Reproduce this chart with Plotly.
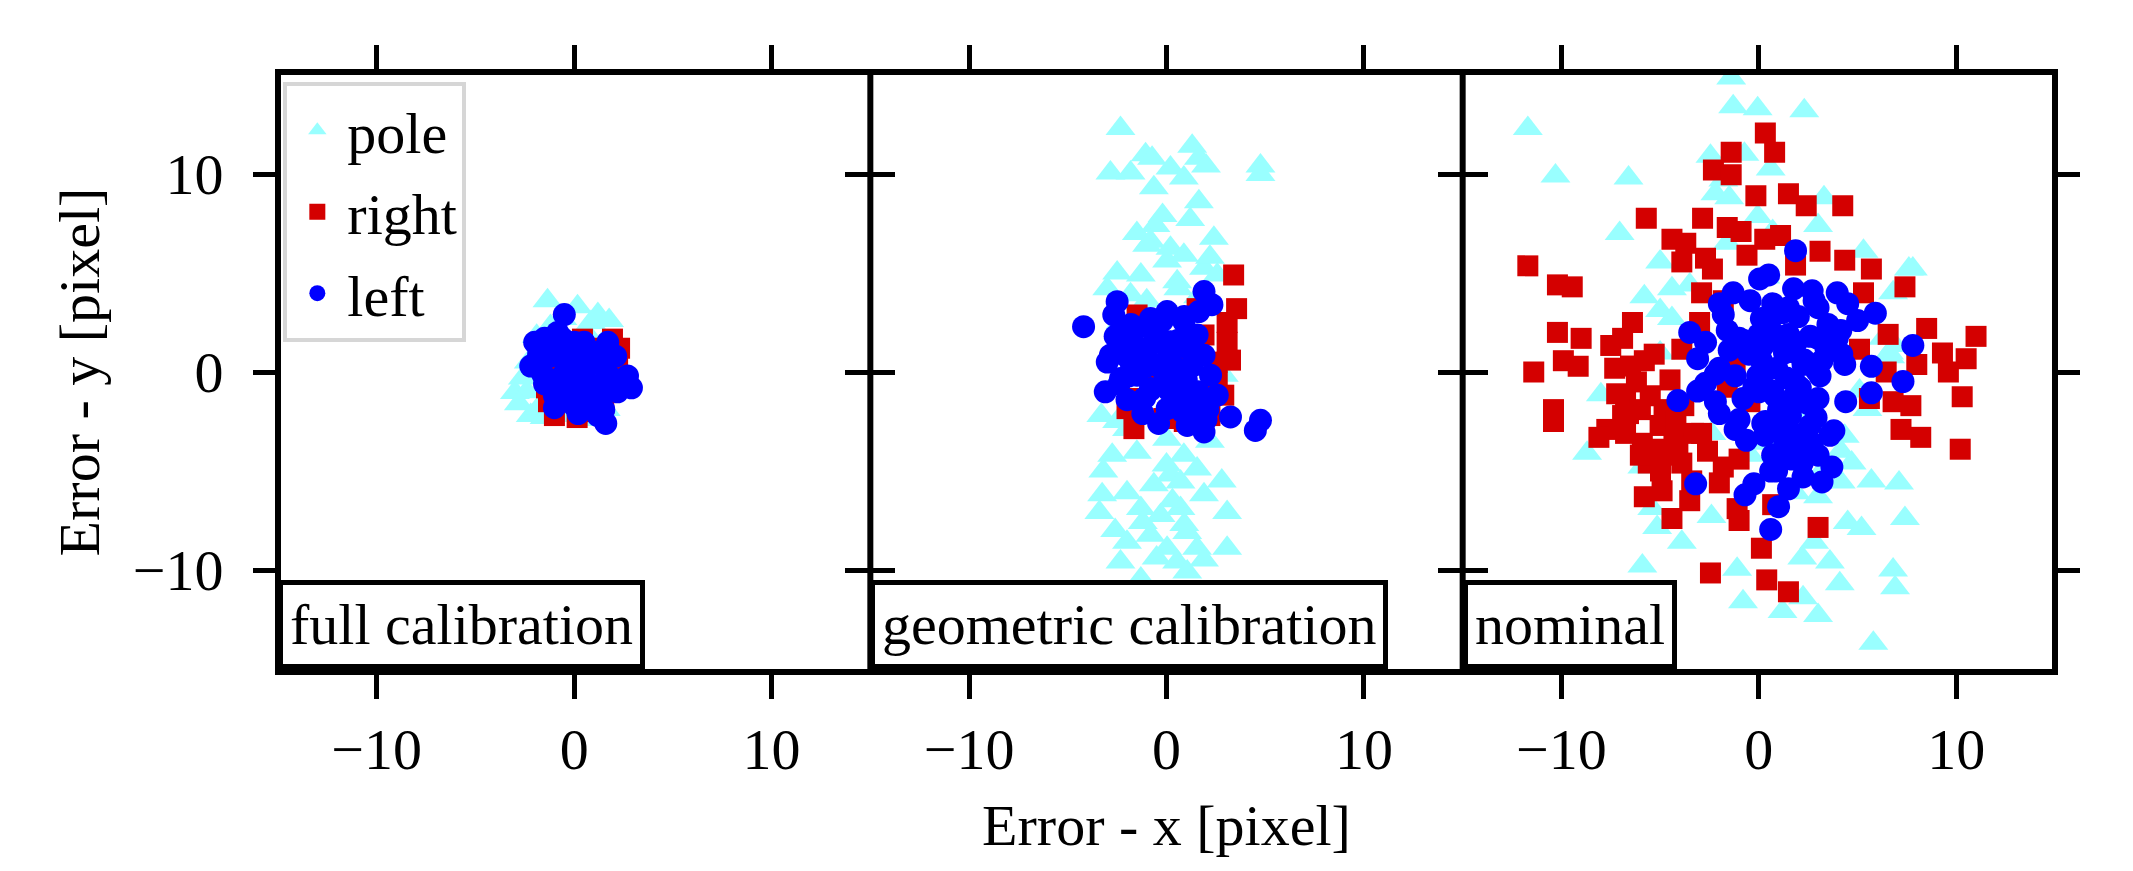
import plotly.graph_objects as go
from plotly.subplots import make_subplots

# ---- data (pixel errors) ----
panels = ["full calibration", "geometric calibration", "nominal"]

# full calibration
full_pole_x = [-1.35, 0.17, 0.85, 1.77, -0.6, 1.2, -3.0, -2.4, -2.8, -2.2, -1.8, -1.5, -0.3, 0.4, 1.0, 1.6,
               -2.3, -1.9, -1.0, 0.0, 0.9, 1.9, -2.6, -0.8, 0.5, 1.4, -1.2, 0.6]
full_pole_y = [3.6, 3.3, 2.5, 2.6, 2.7, 2.9, -1.04, -1.0, -1.6, -2.2, -1.8, -2.3, -2.2, -2.0, -2.4, -1.9,
               0.5, 1.8, 1.2, 0.4, 0.9, -0.8, -0.3, -1.4, -1.2, 1.4, 2.3, 2.0]
full_right_x = [0.42, 1.94, 2.2, -1.0, 0.15, -1.3, -0.5, 1.2, 2.0, 1.5, -1.2, 0.8, -0.3, 0.3, 1.7, -0.8,
                -1.4, 0.9, 2.3, 0.0]
full_right_y = [1.66, 1.66, 0.65, -2.2, -2.3, -1.5, 1.4, 1.2, -0.5, -1.6, 0.2, -1.0, -0.8, 0.6, 0.3, 1.6,
                -0.8, -2.0, 1.2, 1.0]
full_left_x = [-0.5, -2.0, -2.2, 2.7, 2.9, 1.7, 0.5, -0.84, -1.5, -1.2, -0.4, 0.3, 1.0, 1.6, 2.2, 1.5,
               1.6, 1.2, 0.6, -0.2, -0.9, -1.6, -1.0, 0.0, 0.8, 1.9, 2.1, -0.3, 0.7, -1.8, -1.3, 0.2,
               1.1, -0.6, -1.2, -0.6, 0.0, 0.6, 1.2, -1.5, -0.9, -0.3, 0.3, 0.9, 1.5, -1.0, 0.2, 1.3,
               -0.4]
full_left_y = [2.9, 1.5, 0.3, -0.2, -0.8, 1.5, 1.5, 2.0, 1.7, 0.8, 0.3, -0.2, 0.6, 0.1, -1.0, -1.9,
               -2.6, -2.2, -1.5, -1.2, -0.5, -0.1, -1.2, -1.7, -0.6, -0.3, 0.8, 1.1, 1.1, 0.9, -0.4, 0.7,
               -1.4, -0.2, 1.3, 1.7, 1.5, 0.2, 1.0, -0.6, -0.9, -0.5, -1.0, -1.3, -0.9, -1.8, -2.1, -1.6,
               0.8]

# geometric calibration
geo_pole_x = [-2.33, -2.84, -1.82, -1.06, -0.73, 0.2, 1.3, 1.64, 0.88, 2.0, -0.64, 1.64, 4.76, 4.76,
              -0.56, 2.4, -0.81, 0.2, 0.88, -1.3, 1.9, 2.57, -3.0, 0.03, -1.82, -2.33, 2.9, -3.3, -2.5,
              2.2, -2.75, -1.5, 0.03, 0.88, 1.55, 0.2, -3.26, -2.0, -0.64, 0.71, 1.9, -3.4, -1.3, -0.3,
              0.71, 3.07, -2.0, -0.81, 0.03, 1.05, 1.55, 3.07, -2.33, 0.54, -1.3, 1.05, -0.98, 0.54,
              -2.67, 2.57, -1.5, -0.2, 1.2, 2.2, -2.5, 0.6, -1.0, 1.6, -2.0, 0.0, -3.2, 2.8, -1.2, 0.9,
              -2.6, 1.9, -0.5, 0.3]
geo_pole_y = [12.3, 10.05, 10.05, 10.97, 10.8, 10.3, 11.4, 10.8, 9.8, 10.4, 9.3, 8.6, 10.4, 9.97,
              7.4, 6.76, 6.6, 6.25, 5.9, 4.9, 5.24, 4.9, 4.2, 5.6, 3.9, 2.5, -0.16, -2.2, -2.5,
              -3.5, -4.2, -4.05, -3.4, -4.2, -4.9, -5.2, -6.2, -6.1, -5.7, -5.56, -6.2, -7.1, -6.9, -7.25,
              -6.9, -7.1, -8.6, -8.25, -8.9, -8.1, -8.9, -8.9, -9.6, -9.6, -10.45, -10.1, 6.4, 4.56,
              -0.67, -1.17, 7.0, 7.9, 7.7, 5.8, 5.0, 4.2, 3.6, 3.8, -2.9, -4.7, -5.0, -5.5, -7.6, -7.7,
              -8.0, -9.5, -9.4, -6.5]
geo_right_x = [3.4, 3.55, 3.07, 3.07, 3.24, 2.57, 2.9, -1.65, -1.49, 1.55, -2.0, -0.14, 0.9, 2.2,
               -0.98, 0.7, -0.47, 1.9, -1.8, 2.57]
geo_right_y = [4.9, 3.2, 2.5, 1.5, 0.6, -0.5, -1.17, -2.86, 2.88, 3.2, -1.85, -2.35, -2.5, -2.2,
               2.5, 0.85, 0.0, 1.87, -1.34, 0.5]
geo_left_x = [-4.2, -2.5, -2.67, 1.9, 2.3, 1.64, 0.03, -0.81, -2.0, -2.84, -3.0, -3.1, -2.33, -1.3,
              -0.98, 0.2, 1.55, 1.9, 2.23, 2.57, 3.24, 4.76, 4.5, 1.9, 1.05, 0.03, 0.88, -0.14, -1.82,
              -0.81, 0.54, 1.2, -2.16, -0.47, 0.88, -1.49, -2.6, -2.2, -1.8, -1.4, -1.0, -0.6, -0.2,
              0.2, 0.6, 1.0, 1.4, -2.4, -2.0, -1.6, -1.2, -0.8, -0.4, 0.0, 0.4, 0.8, 1.2, 1.6, 2.0,
              -1.9, -1.1, -0.3, 0.5, 1.3, 2.1, -1.5, -0.7, 0.1, 0.9, 1.7]
geo_left_y = [2.29, 3.55, 2.88, 4.06, 3.4, 3.05, 3.05, 2.7, 2.2, 0.85, 0.5, -1.0, -0.33, -1.5,
              1.19, 1.53, 1.87, 0.85, -0.16, -1.17, -2.27, -2.44, -2.95, -3.03, -2.7, -1.85, -0.83, 0.0,
              0.5, -0.83, 0.18, -1.85, 1.53, 2.2, 2.54, -0.16, 1.8, 0.9, 2.4, 1.2, 0.3, 1.9, 2.6,
              0.8, 1.6, -0.4, -1.6, -0.6, -1.4, 0.1, -2.1, -0.9, -2.6, 0.6, -0.5, -2.0, 1.1, -1.0, -2.4,
              -0.2, -1.3, 1.5, -1.7, 0.3, -1.9, 2.2, 0.4, -0.9, 2.8, -2.6]

# nominal
nom_pole_x = [-1.4, -1.3, -0.06, 2.3, -11.7, -10.3, -6.6, -2.45, -0.73, 0.6, -2.2, -1.5, 3.3, -7.05,
              -0.06, 3.0, -5.0, 5.3, 7.6, -5.8, -4.4, -5.0, -4.4, 6.8, -5.0, -8.0, -8.7, 6.9, 6.65, 5.5,
              4.35, 4.7, 5.7, 7.1, 7.4, 4.5, 5.2, 2.8, 2.2, 3.6, 6.8, 6.9, 4.1, -1.1, -0.8, 1.2, 2.24,
              3.0, 5.8, -5.9, -5.15, -3.9, -2.4, -5.9, -5.4, 1.86, 3.0, 3.2, 4.15, 4.15, -1.8, 0.7, -1.6,
              -3.5, 0.33, 1.86, 3.4, 6.6, -1.6, -2.4, 0.33, 2.24, 5.1, -0.44, 6.3, 7.8]
nom_pole_y = [14.85, 13.4, 13.3, 13.2, 12.3, 9.9, 9.8, 10.9, 11.0, 10.25, 9.0, 8.8, 8.8, 7.0,
              7.85, 7.4, 5.56, 6.1, 5.2, 3.8, 4.2, 3.1, 2.7, 4.0, 0.96, -1.15, -4.1, 1.34, 0.77, -1.9,
              -3.25, -4.6, -5.5, -5.6, -7.4, -7.6, -7.9, -8.6, -9.4, -9.6, -10.0, -10.9, -10.7, -9.96,
              -11.6, -12.1, -11.4, -12.3, -13.7, -9.8, -7.85, -8.6, -7.3, -4.8, -6.9, -6.1, -6.3, -5.0,
              -5.55, -4.0, 9.7, 7.1, 6.5, 4.4, 4.8, 2.9, 2.1, 0.96, 0.57, -3.1, -3.6, -2.1, -0.96,
              -4.2, 1.7, 5.2]
nom_right_x = [0.33, 0.8, -1.4, -2.3, -1.4, -0.15, 1.5, 2.4, 4.25, -5.7, -2.85, -1.6, -0.9, -4.4,
               -3.7, 1.1, 0.3, 3.1, 4.35, 5.7, -11.7, -10.2, -9.45, -3.9, -2.7, -2.35, -0.6, 1.86,
               7.4, 5.3, -2.9, -1.8, -6.4, 8.5, 11.0, -10.2, -9.0, 6.55, 5.1, 9.3, 10.5, 8.0, 9.6,
               -9.9, -9.15, -11.4, -7.5, -6.9, -7.3, -5.8, -3.9, -1.2, 6.45, 10.3, 5.6, 6.8, 7.7,
               -10.4, -10.4, -6.75, -6.0, -7.7, -6.75, -5.0, -4.3, -3.3, -4.6, -5.6, -3.9, -4.98,
               -1.8, -1.0, -2.0, 7.2, 8.2, 10.2, -2.9, -5.8, -3.5, -4.4, -1.1, -1.0, 0.7, 3.0, 0.13,
               -2.45, 0.4, 1.5, 1.1, 2.2, -0.45, -1.6, -6.6, -8.1, -6.2, -5.5, -4.8, -6.9, -5.9, -5.2,
               -4.5, -3.8, -6.5, -5.3, -4.1, -3.4, -6.0, -4.9, -4.2, -2.6, -7.2, -3.0]
nom_right_y = [12.07, 11.1, 11.1, 10.2, 9.96, 8.9, 9.0, 8.4, 8.4, 7.76, 7.76, 7.3, 7.1, 6.7,
               6.5, 6.9, 6.7, 6.1, 5.65, 5.2, 5.36, 4.4, 4.3, 5.56, 5.75, 5.2, 5.9, 5.4,
               4.3, 4.0, 4.0, 3.6, 2.5, 2.2, 1.8, 2.0, 1.7, 1.9, 1.15, 0.96, 0.67, 0.38, 0.0,
               0.57, 0.29, 0.0, 1.34, 1.7, 0.19, 0.57, 1.15, 0.38, 0.0, -1.25, -1.34, -1.5, -1.7,
               -1.9, -2.5, -1.34, -1.9, -2.9, -3.1, -2.7, -3.3, -3.1, -4.2, -4.6, -4.6, -5.0,
               -4.8, -4.4, -5.6, -2.9, -3.3, -3.9, -3.1, -6.3, -6.5, -7.4, -6.9, -7.5, -6.7, -7.85, -8.9,
               -10.15, -10.5, -11.1, -1.7, -1.5, -1.5, -0.77, -2.1, -3.3, -0.5, -1.2, -1.9, -2.2, -3.6,
               -3.9, -0.4, -1.7, 0.3, 0.9, -3.8, -5.5, -4.2, -6.0, -2.5, -4.0, -1.1, 2.5]
nom_left_x = [1.86, 0.5, 0.04, -1.3, 1.76, 2.7, 3.97, 4.5, 5.9, 5.0, -2.0, -1.8, -0.44, 0.7, 3.0,
              -3.5, -2.7, -3.1, -1.0, -1.6, 0.33, 1.5, 3.0, 3.97, 4.15, 7.8, 1.3, 0.13, 2.24, 3.2, 4.35,
              5.7, -2.0, -1.2, -2.7, 7.3, 5.7, 4.4, -4.1, -3.1, -2.2, -0.8, 0.7, 1.67, 3.0, -2.0, -1.2,
              -0.63, 0.33, 1.3, 2.6, 3.8, 0.7, 1.67, 3.0, 3.7, 0.9, 2.24, 3.2, -3.2, -0.25, -0.7, 1.0,
              0.6, -0.06, 0.9, -0.25, 1.86, 1.5, 0.13, 0.5, 1.2, 2.0, 2.8, 3.5, 0.2, 1.0, 1.8, 2.6,
              3.4, 4.2, -0.5, 0.4, 1.4, 2.3, 3.1, 0.8, 1.6, 2.5, -1.5, -0.8, 0.0, 1.1, 2.0, 2.9, 0.3,
              1.3, 2.2, -2.2, -1.0, 0.6, 1.5, 2.7, 3.6, 1.9, 1.0, 2.1, 0.2, 1.6, 2.9, 0.7, 1.9, 1.2,
              2.4, 0.0]
nom_left_y = [6.13, 4.9, 4.7, 4.0, 4.2, 4.1, 4.0, 3.45, 2.97, 2.6, 3.45, 2.9, 3.6, 3.45, 3.25,
              2.0, 1.5, 0.67, 1.7, 2.1, 2.1, 1.9, 1.7, 1.7, 2.1, 1.34, 0.96, 0.57, 0.38, 0.57, 0.38,
              0.29, 0.19, -0.19, -0.57, -0.48, -1.05, -1.5, -1.44, -0.96, -1.5, -1.34, -0.96, -1.72,
              -1.34, -2.1, -2.9, -3.45, -2.5, -3.1, -2.7, -2.97, -4.2, -4.4, -4.2, -4.8, -5.0, -5.3,
              -5.55, -5.65, -5.65, -6.2, -6.8, -7.95, -0.19, 0.19, -0.77, -0.57, 3.25, 2.7, 2.5, 3.0,
              2.8, 3.6, 2.4, 1.3, 1.6, 1.0, 1.8, 1.2, 0.9, 0.9, 0.1, -0.3, 0.6, -0.2, -1.2, -2.2, -1.6,
              1.1, 1.6, -1.0, -2.8, -3.4, -2.3, -3.2, -3.7, -4.6, -0.1, -2.4, -5.0, -5.9, -3.6, -3.2,
              -1.0, -1.9, -0.8, -2.6, -3.0, 0.1, 2.0, 1.5, -4.2, -4.0, 1.9]

series = [
    ("pole", "triangle-up", 26, "#99ffff",
     [(full_pole_x, full_pole_y), (geo_pole_x, geo_pole_y), (nom_pole_x, nom_pole_y)]),
    ("right", "square", 21, "#d40000",
     [(full_right_x, full_right_y), (geo_right_x, geo_right_y), (nom_right_x, nom_right_y)]),
    ("left", "circle", 23, "#0000ff",
     [(full_left_x, full_left_y), (geo_left_x, geo_left_y), (nom_left_x, nom_left_y)]),
]

FONT = "Liberation Serif, Times New Roman, serif"

fig = make_subplots(rows=1, cols=3, shared_yaxes=True, horizontal_spacing=0)

for name, symbol, size, color, data in series:
    for i, (xs, ys) in enumerate(data):
        fig.add_trace(go.Scatter(x=xs, y=ys, mode="markers", name=name, legendgroup=name,
                                 showlegend=(i == 0),
                                 marker=dict(symbol=symbol, size=size, color=color, line=dict(width=0))),
                      row=1, col=i + 1)

tick_style = dict(range=[-15, 15], tickvals=[-10, 0, 10], mirror="ticks", ticks="outside",
                  ticklen=24, tickwidth=5, tickcolor="black", showgrid=False, zeroline=False,
                  tickfont=dict(family=FONT, size=58, color="black"))
fig.update_xaxes(showline=True, linecolor="black", linewidth=6, **tick_style)
# vertical frame lines are drawn as shapes so shared panel edges are not doubled
fig.update_yaxes(showline=False, ticklabelstandoff=18, **tick_style)

fig.update_xaxes(title=dict(text="Error - x [pixel]", font=dict(family=FONT, size=58), standoff=26),
                 row=1, col=2)
fig.update_yaxes(title=dict(text="Error - y [pixel]", font=dict(family=FONT, size=58), standoff=14),
                 row=1, col=1)

for xp in [0, 1 / 3, 2 / 3, 1]:
    fig.add_shape(type="line", xref="paper", yref="paper", x0=xp, x1=xp, y0=-6 / 594, y1=1 + 6 / 594,
                  line=dict(color="black", width=6))

for i, label in enumerate(panels):
    sfx = "" if i == 0 else str(i + 1)
    fig.add_annotation(text=label, xref="x%s domain" % sfx, yref="y%s domain" % sfx, x=0, y=0,
                       xanchor="left", yanchor="bottom", showarrow=False,
                       font=dict(family=FONT, size=58, color="black"),
                       bgcolor="white", bordercolor="black", borderwidth=5, borderpad=7)

fig.update_layout(
    width=2133, height=871,
    margin=dict(l=278, r=78, t=75, b=202),
    plot_bgcolor="white", paper_bgcolor="white",
    font=dict(family=FONT, size=58, color="black"),
    legend=dict(x=0.003, y=0.988, xanchor="left", yanchor="top", bgcolor="white",
                bordercolor="#d6d6d6", borderwidth=4, font=dict(family=FONT, size=58),
                itemwidth=50, tracegroupgap=3),
)

fig.write_html("out.html", config={"displayModeBar": False},
               post_script="document.body.style.margin='0';")
